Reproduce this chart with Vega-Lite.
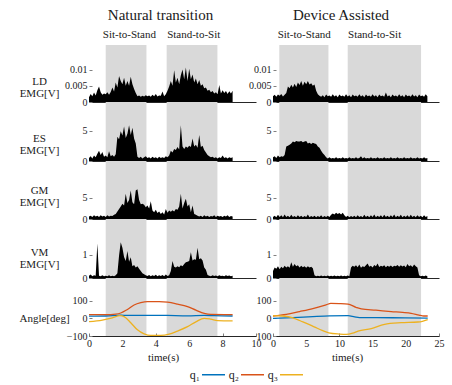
{
"$schema": "https://vega.github.io/schema/vega-lite/v6.json",
"padding": {"left": 18, "top": 8, "right": 5, "bottom": 5},
"config": {
  "font": "Liberation Serif",
  "view": {"stroke": null},
  "axis": {"labelFont": "Liberation Serif", "labelFontSize": 10, "labelColor": "#1a1a1a", "labelOverlap": false, "labelFlush": false, "tickCount": 12, "titleFont": "Liberation Serif", "titleFontWeight": "normal", "titleColor": "#1a1a1a", "grid": false, "tickColor": "#808080", "domainColor": "#262626"},
  "title": {"font": "Liberation Serif", "fontWeight": "normal", "color": "#1a1a1a"},
  "text": {"font": "Liberation Serif", "color": "#1a1a1a"}
},
"datasets": {
  "phL": [{"s": 1.0, "e": 3.44, "m": 2.42, "lab": "Sit-to-Stand"}, {"s": 4.65, "e": 7.69, "m": 6.27, "lab": "Stand-to-Sit"}],
  "phR": [{"s": 0.95, "e": 8.35, "m": 4.7, "lab": "Sit-to-Stand"}, {"s": 11.25, "e": 22.3, "m": 15.3, "lab": "Stand-to-Sit"}],
  "emgL": [
{"t":0.0,"LD":0.0015,"ES":0.5,"GM":0.6,"VM":0.10},
{"t":0.1,"LD":0.0025,"ES":0.8,"GM":0.8,"VM":0.15},
{"t":0.2,"LD":0.0018,"ES":0.4,"GM":0.5,"VM":0.08},
{"t":0.3,"LD":0.0029,"ES":0.9,"GM":0.9,"VM":0.12},
{"t":0.4,"LD":0.0020,"ES":0.6,"GM":0.6,"VM":0.10},
{"t":0.5,"LD":0.0036,"ES":1.2,"GM":0.8,"VM":1.48},
{"t":0.6,"LD":0.0048,"ES":1.7,"GM":0.5,"VM":0.10},
{"t":0.7,"LD":0.0030,"ES":1.0,"GM":0.9,"VM":0.08},
{"t":0.8,"LD":0.0022,"ES":1.5,"GM":0.6,"VM":0.12},
{"t":0.9,"LD":0.0026,"ES":0.7,"GM":0.8,"VM":0.07},
{"t":1.0,"LD":0.0024,"ES":0.9,"GM":0.5,"VM":0.10},
{"t":1.1,"LD":0.0030,"ES":0.6,"GM":0.9,"VM":0.08},
{"t":1.2,"LD":0.0022,"ES":1.6,"GM":0.6,"VM":0.12},
{"t":1.3,"LD":0.0031,"ES":0.8,"GM":0.8,"VM":0.07},
{"t":1.4,"LD":0.0045,"ES":1.0,"GM":0.7,"VM":0.10},
{"t":1.5,"LD":0.0032,"ES":0.7,"GM":1.0,"VM":0.08},
{"t":1.6,"LD":0.0060,"ES":1.1,"GM":1.2,"VM":0.12},
{"t":1.7,"LD":0.0045,"ES":4.0,"GM":1.8,"VM":0.20},
{"t":1.8,"LD":0.0080,"ES":3.6,"GM":2.4,"VM":0.97},
{"t":1.9,"LD":0.0065,"ES":4.9,"GM":3.0,"VM":1.53},
{"t":2.0,"LD":0.0055,"ES":4.2,"GM":3.6,"VM":1.30},
{"t":2.1,"LD":0.0075,"ES":5.7,"GM":3.2,"VM":0.90},
{"t":2.2,"LD":0.0050,"ES":3.8,"GM":6.0,"VM":0.73},
{"t":2.3,"LD":0.0065,"ES":4.5,"GM":3.8,"VM":1.16},
{"t":2.4,"LD":0.0050,"ES":5.9,"GM":4.5,"VM":0.70},
{"t":2.5,"LD":0.0078,"ES":4.3,"GM":6.8,"VM":0.89},
{"t":2.6,"LD":0.0055,"ES":5.5,"GM":4.0,"VM":0.50},
{"t":2.7,"LD":0.0040,"ES":3.7,"GM":3.5,"VM":0.56},
{"t":2.8,"LD":0.0028,"ES":2.9,"GM":6.8,"VM":0.45},
{"t":2.9,"LD":0.0018,"ES":0.7,"GM":7.1,"VM":0.50},
{"t":3.0,"LD":0.0020,"ES":0.5,"GM":4.5,"VM":0.40},
{"t":3.1,"LD":0.0016,"ES":0.7,"GM":3.5,"VM":0.30},
{"t":3.2,"LD":0.0019,"ES":0.4,"GM":3.6,"VM":0.20},
{"t":3.3,"LD":0.0017,"ES":0.6,"GM":3.4,"VM":0.16},
{"t":3.4,"LD":0.0021,"ES":0.8,"GM":2.8,"VM":0.12},
{"t":3.5,"LD":0.0018,"ES":0.5,"GM":3.2,"VM":0.09},
{"t":3.6,"LD":0.0020,"ES":0.6,"GM":2.5,"VM":0.13},
{"t":3.7,"LD":0.0016,"ES":0.4,"GM":4.2,"VM":0.08},
{"t":3.8,"LD":0.0022,"ES":0.7,"GM":2.0,"VM":0.12},
{"t":3.9,"LD":0.0018,"ES":0.5,"GM":1.6,"VM":0.09},
{"t":4.0,"LD":0.0025,"ES":0.6,"GM":2.2,"VM":0.14},
{"t":4.1,"LD":0.0017,"ES":0.4,"GM":1.4,"VM":0.08},
{"t":4.2,"LD":0.0020,"ES":0.7,"GM":1.8,"VM":0.12},
{"t":4.3,"LD":0.0019,"ES":0.5,"GM":1.2,"VM":0.09},
{"t":4.4,"LD":0.0032,"ES":0.6,"GM":1.6,"VM":0.13},
{"t":4.5,"LD":0.0018,"ES":0.5,"GM":1.1,"VM":0.08},
{"t":4.6,"LD":0.0024,"ES":0.8,"GM":2.4,"VM":0.15},
{"t":4.7,"LD":0.0035,"ES":0.6,"GM":1.5,"VM":0.09},
{"t":4.8,"LD":0.0048,"ES":0.9,"GM":2.0,"VM":0.12},
{"t":4.9,"LD":0.0065,"ES":1.7,"GM":1.7,"VM":0.30},
{"t":5.0,"LD":0.0050,"ES":1.4,"GM":2.1,"VM":0.73},
{"t":5.1,"LD":0.0098,"ES":2.0,"GM":1.8,"VM":0.48},
{"t":5.2,"LD":0.0060,"ES":1.8,"GM":2.4,"VM":0.45},
{"t":5.3,"LD":0.0075,"ES":2.3,"GM":2.2,"VM":0.50},
{"t":5.4,"LD":0.0055,"ES":1.9,"GM":3.0,"VM":0.46},
{"t":5.5,"LD":0.0082,"ES":5.9,"GM":6.0,"VM":0.55},
{"t":5.6,"LD":0.0100,"ES":2.4,"GM":2.5,"VM":0.50},
{"t":5.7,"LD":0.0070,"ES":2.0,"GM":3.8,"VM":0.60},
{"t":5.8,"LD":0.0106,"ES":2.4,"GM":4.8,"VM":0.68},
{"t":5.9,"LD":0.0065,"ES":2.2,"GM":3.0,"VM":0.70},
{"t":6.0,"LD":0.0102,"ES":2.5,"GM":3.5,"VM":0.73},
{"t":6.1,"LD":0.0070,"ES":2.3,"GM":1.6,"VM":1.10},
{"t":6.2,"LD":0.0085,"ES":3.7,"GM":3.2,"VM":0.75},
{"t":6.3,"LD":0.0060,"ES":2.4,"GM":1.2,"VM":0.80},
{"t":6.4,"LD":0.0072,"ES":2.7,"GM":1.0,"VM":0.78},
{"t":6.5,"LD":0.0055,"ES":2.2,"GM":0.8,"VM":1.30},
{"t":6.6,"LD":0.0068,"ES":4.3,"GM":0.6,"VM":0.80},
{"t":6.7,"LD":0.0050,"ES":2.3,"GM":0.8,"VM":0.85},
{"t":6.8,"LD":0.0055,"ES":2.5,"GM":0.5,"VM":0.75},
{"t":6.9,"LD":0.0042,"ES":1.8,"GM":0.9,"VM":0.45},
{"t":7.0,"LD":0.0045,"ES":1.4,"GM":0.6,"VM":0.35},
{"t":7.1,"LD":0.0035,"ES":1.0,"GM":0.8,"VM":0.13},
{"t":7.2,"LD":0.0038,"ES":0.8,"GM":0.5,"VM":0.10},
{"t":7.3,"LD":0.0030,"ES":0.6,"GM":0.7,"VM":0.08},
{"t":7.4,"LD":0.0034,"ES":0.7,"GM":0.6,"VM":0.12},
{"t":7.5,"LD":0.0026,"ES":0.5,"GM":0.9,"VM":0.09},
{"t":7.6,"LD":0.0030,"ES":0.6,"GM":0.5,"VM":0.11},
{"t":7.7,"LD":0.0024,"ES":0.4,"GM":0.8,"VM":0.08},
{"t":7.8,"LD":0.0052,"ES":0.6,"GM":0.6,"VM":0.12},
{"t":7.9,"LD":0.0026,"ES":0.5,"GM":0.7,"VM":0.09},
{"t":8.0,"LD":0.0036,"ES":0.9,"GM":0.5,"VM":0.10},
{"t":8.1,"LD":0.0028,"ES":0.5,"GM":0.8,"VM":0.08},
{"t":8.2,"LD":0.0034,"ES":0.6,"GM":0.6,"VM":0.12},
{"t":8.3,"LD":0.0025,"ES":0.4,"GM":0.9,"VM":0.09},
{"t":8.4,"LD":0.0033,"ES":0.6,"GM":0.5,"VM":0.11},
{"t":8.5,"LD":0.0026,"ES":0.5,"GM":0.7,"VM":0.08},
{"t":8.6,"LD":0.0035,"ES":0.6,"GM":0.6,"VM":0.10}
  ],
  "emgR": [
{"t":0,"LD":0.0018,"ES":0.6,"GM":0.5,"VM":0.30},
{"t":0.25,"LD":0.0022,"ES":0.8,"GM":0.8,"VM":0.45},
{"t":0.5,"LD":0.0016,"ES":0.5,"GM":0.4,"VM":0.40},
{"t":0.75,"LD":0.0023,"ES":0.9,"GM":1.0,"VM":0.50},
{"t":1.0,"LD":0.0019,"ES":0.6,"GM":0.5,"VM":0.38},
{"t":1.25,"LD":0.0025,"ES":0.8,"GM":0.9,"VM":0.48},
{"t":1.5,"LD":0.0017,"ES":0.7,"GM":0.4,"VM":0.42},
{"t":1.75,"LD":0.0022,"ES":1.0,"GM":1.1,"VM":0.52},
{"t":2.0,"LD":0.0028,"ES":2.4,"GM":0.5,"VM":0.45},
{"t":2.25,"LD":0.0048,"ES":2.5,"GM":0.8,"VM":0.50},
{"t":2.5,"LD":0.0042,"ES":2.7,"GM":0.4,"VM":0.44},
{"t":2.75,"LD":0.0053,"ES":2.9,"GM":1.0,"VM":0.68},
{"t":3.0,"LD":0.0045,"ES":3.2,"GM":0.5,"VM":0.48},
{"t":3.25,"LD":0.0056,"ES":3.1,"GM":0.7,"VM":0.60},
{"t":3.5,"LD":0.0046,"ES":3.3,"GM":0.4,"VM":0.50},
{"t":3.75,"LD":0.0060,"ES":3.2,"GM":0.9,"VM":0.55},
{"t":4.0,"LD":0.0052,"ES":3.2,"GM":0.5,"VM":0.45},
{"t":4.25,"LD":0.0065,"ES":3.3,"GM":0.8,"VM":0.52},
{"t":4.5,"LD":0.0050,"ES":3.1,"GM":0.4,"VM":0.46},
{"t":4.75,"LD":0.0062,"ES":3.2,"GM":0.7,"VM":0.50},
{"t":5.0,"LD":0.0055,"ES":3.3,"GM":0.5,"VM":0.44},
{"t":5.25,"LD":0.0065,"ES":2.9,"GM":1.1,"VM":0.50},
{"t":5.5,"LD":0.0054,"ES":3.0,"GM":0.4,"VM":0.45},
{"t":5.75,"LD":0.0058,"ES":2.8,"GM":0.7,"VM":0.48},
{"t":6.0,"LD":0.0050,"ES":3.0,"GM":0.5,"VM":0.42},
{"t":6.25,"LD":0.0054,"ES":2.9,"GM":0.8,"VM":0.12},
{"t":6.5,"LD":0.0035,"ES":2.8,"GM":0.4,"VM":0.08},
{"t":6.75,"LD":0.0024,"ES":2.4,"GM":0.7,"VM":0.10},
{"t":7.0,"LD":0.0019,"ES":2.2,"GM":0.5,"VM":0.07},
{"t":7.25,"LD":0.0016,"ES":1.7,"GM":0.9,"VM":0.11},
{"t":7.5,"LD":0.0021,"ES":1.3,"GM":0.4,"VM":0.08},
{"t":7.75,"LD":0.0015,"ES":1.0,"GM":0.7,"VM":0.10},
{"t":8.0,"LD":0.0023,"ES":0.6,"GM":0.5,"VM":0.07},
{"t":8.25,"LD":0.0018,"ES":0.4,"GM":0.8,"VM":0.11},
{"t":8.5,"LD":0.0020,"ES":0.6,"GM":0.5,"VM":0.08},
{"t":8.75,"LD":0.0016,"ES":0.4,"GM":1.0,"VM":0.10},
{"t":9.0,"LD":0.0024,"ES":0.5,"GM":1.3,"VM":0.07},
{"t":9.25,"LD":0.0017,"ES":0.4,"GM":1.1,"VM":0.11},
{"t":9.5,"LD":0.0021,"ES":0.6,"GM":1.5,"VM":0.08},
{"t":9.75,"LD":0.0015,"ES":0.4,"GM":1.2,"VM":0.10},
{"t":10.0,"LD":0.0023,"ES":0.5,"GM":1.4,"VM":0.07},
{"t":10.25,"LD":0.0018,"ES":0.4,"GM":1.1,"VM":0.11},
{"t":10.5,"LD":0.0020,"ES":0.6,"GM":1.5,"VM":0.08},
{"t":10.75,"LD":0.0016,"ES":0.4,"GM":0.9,"VM":0.10},
{"t":11.0,"LD":0.0024,"ES":0.5,"GM":0.5,"VM":0.07},
{"t":11.25,"LD":0.0017,"ES":0.4,"GM":0.8,"VM":0.11},
{"t":11.5,"LD":0.0021,"ES":0.6,"GM":0.4,"VM":0.08},
{"t":11.75,"LD":0.0015,"ES":0.4,"GM":0.7,"VM":0.45},
{"t":12.0,"LD":0.0023,"ES":0.5,"GM":0.5,"VM":0.52},
{"t":12.25,"LD":0.0018,"ES":0.4,"GM":0.8,"VM":0.48},
{"t":12.5,"LD":0.0020,"ES":0.6,"GM":0.4,"VM":0.55},
{"t":12.75,"LD":0.0016,"ES":0.4,"GM":0.9,"VM":0.46},
{"t":13.0,"LD":0.0024,"ES":0.5,"GM":0.5,"VM":0.58},
{"t":13.25,"LD":0.0017,"ES":0.8,"GM":0.7,"VM":0.44},
{"t":13.5,"LD":0.0021,"ES":0.4,"GM":0.4,"VM":0.50},
{"t":13.75,"LD":0.0015,"ES":0.6,"GM":1.0,"VM":0.47},
{"t":14.0,"LD":0.0023,"ES":0.4,"GM":0.5,"VM":0.55},
{"t":14.25,"LD":0.0018,"ES":0.5,"GM":0.8,"VM":0.62},
{"t":14.5,"LD":0.0020,"ES":0.4,"GM":0.4,"VM":0.48},
{"t":14.75,"LD":0.0016,"ES":0.6,"GM":0.9,"VM":0.52},
{"t":15.0,"LD":0.0024,"ES":0.4,"GM":0.5,"VM":0.45},
{"t":15.25,"LD":0.0017,"ES":0.5,"GM":1.1,"VM":0.56},
{"t":15.5,"LD":0.0021,"ES":0.4,"GM":0.4,"VM":0.50},
{"t":15.75,"LD":0.0015,"ES":0.6,"GM":0.8,"VM":0.62},
{"t":16.0,"LD":0.0023,"ES":0.4,"GM":0.5,"VM":0.47},
{"t":16.25,"LD":0.0018,"ES":0.5,"GM":0.9,"VM":0.53},
{"t":16.5,"LD":0.0020,"ES":0.4,"GM":0.4,"VM":0.49},
{"t":16.75,"LD":0.0016,"ES":0.6,"GM":1.0,"VM":0.55},
{"t":17.0,"LD":0.0029,"ES":0.4,"GM":0.5,"VM":0.46},
{"t":17.25,"LD":0.0017,"ES":0.5,"GM":0.8,"VM":0.52},
{"t":17.5,"LD":0.0021,"ES":0.4,"GM":0.4,"VM":0.48},
{"t":17.75,"LD":0.0015,"ES":0.6,"GM":0.9,"VM":0.54},
{"t":18.0,"LD":0.0023,"ES":0.4,"GM":0.5,"VM":0.47},
{"t":18.25,"LD":0.0018,"ES":0.5,"GM":1.1,"VM":0.53},
{"t":18.5,"LD":0.0020,"ES":0.4,"GM":0.4,"VM":0.50},
{"t":18.75,"LD":0.0016,"ES":0.6,"GM":0.8,"VM":0.56},
{"t":19.0,"LD":0.0024,"ES":0.4,"GM":0.5,"VM":0.48},
{"t":19.25,"LD":0.0017,"ES":0.5,"GM":1.0,"VM":0.55},
{"t":19.5,"LD":0.0021,"ES":0.4,"GM":0.4,"VM":0.49},
{"t":19.75,"LD":0.0015,"ES":0.6,"GM":0.8,"VM":0.54},
{"t":20.0,"LD":0.0023,"ES":0.4,"GM":0.5,"VM":0.46},
{"t":20.25,"LD":0.0018,"ES":0.5,"GM":0.9,"VM":0.60},
{"t":20.5,"LD":0.0020,"ES":0.4,"GM":0.4,"VM":0.50},
{"t":20.75,"LD":0.0016,"ES":0.6,"GM":1.0,"VM":0.55},
{"t":21.0,"LD":0.0024,"ES":0.4,"GM":0.5,"VM":0.47},
{"t":21.25,"LD":0.0017,"ES":0.5,"GM":0.8,"VM":0.58},
{"t":21.5,"LD":0.0021,"ES":0.4,"GM":0.4,"VM":0.50},
{"t":21.75,"LD":0.0015,"ES":0.6,"GM":0.9,"VM":0.45},
{"t":22.0,"LD":0.0023,"ES":0.4,"GM":0.5,"VM":0.12},
{"t":22.25,"LD":0.0018,"ES":0.5,"GM":0.8,"VM":0.08},
{"t":22.5,"LD":0.0020,"ES":0.4,"GM":0.4,"VM":0.10},
{"t":22.75,"LD":0.0016,"ES":0.6,"GM":0.9,"VM":0.07},
{"t":23.0,"LD":0.0024,"ES":0.4,"GM":0.5,"VM":0.11},
{"t":23.25,"LD":0.0018,"ES":0.5,"GM":0.7,"VM":0.08}
  ],
  "angL": [
{"q":"q₁","t":0,"v":12},{"q":"q₁","t":1.0,"v":13},{"q":"q₁","t":1.9,"v":18},{"q":"q₁","t":2.3,"v":16},{"q":"q₁","t":3.5,"v":17},{"q":"q₁","t":4.7,"v":16},{"q":"q₁","t":5.9,"v":14},{"q":"q₁","t":6.9,"v":17},{"q":"q₁","t":7.5,"v":15},{"q":"q₁","t":8.6,"v":13},
{"q":"q₂","t":0,"v":21},{"q":"q₂","t":1.0,"v":21},{"q":"q₂","t":1.6,"v":24},{"q":"q₂","t":1.9,"v":30},{"q":"q₂","t":2.3,"v":50},{"q":"q₂","t":2.7,"v":75},{"q":"q₂","t":3.1,"v":88},{"q":"q₂","t":3.5,"v":94},{"q":"q₂","t":4.2,"v":94},{"q":"q₂","t":4.7,"v":91},{"q":"q₂","t":5.3,"v":80},{"q":"q₂","t":5.9,"v":66},{"q":"q₂","t":6.4,"v":46},{"q":"q₂","t":6.9,"v":28},{"q":"q₂","t":7.3,"v":22},{"q":"q₂","t":8.6,"v":21},
{"q":"q₃","t":0,"v":-19},{"q":"q₃","t":0.8,"v":-10},{"q":"q₃","t":1.4,"v":3},{"q":"q₃","t":1.85,"v":15},{"q":"q₃","t":2.1,"v":10},{"q":"q₃","t":2.5,"v":-25},{"q":"q₃","t":2.9,"v":-65},{"q":"q₃","t":3.3,"v":-88},{"q":"q₃","t":3.7,"v":-97},{"q":"q₃","t":4.3,"v":-97},{"q":"q₃","t":4.8,"v":-90},{"q":"q₃","t":5.3,"v":-72},{"q":"q₃","t":5.9,"v":-47},{"q":"q₃","t":6.4,"v":-20},{"q":"q₃","t":6.9,"v":0},{"q":"q₃","t":7.3,"v":-5},{"q":"q₃","t":7.7,"v":-13},{"q":"q₃","t":8.6,"v":-15}
  ],
  "angR": [
{"q":"q₁","t":0,"v":0},{"q":"q₁","t":3,"v":4},{"q":"q₁","t":6,"v":10},{"q":"q₁","t":8.5,"v":14},{"q":"q₁","t":11.3,"v":15},{"q":"q₁","t":12.3,"v":8},{"q":"q₁","t":13,"v":4},{"q":"q₁","t":18,"v":3},{"q":"q₁","t":23.3,"v":1},
{"q":"q₂","t":0,"v":13},{"q":"q₂","t":2,"v":22},{"q":"q₂","t":4,"v":38},{"q":"q₂","t":6,"v":55},{"q":"q₂","t":8,"v":76},{"q":"q₂","t":8.7,"v":84},{"q":"q₂","t":10,"v":83},{"q":"q₂","t":11.3,"v":80},{"q":"q₂","t":12.5,"v":62},{"q":"q₂","t":13.3,"v":53},{"q":"q₂","t":15.5,"v":46},{"q":"q₂","t":17.8,"v":38},{"q":"q₂","t":19.5,"v":33},{"q":"q₂","t":20.8,"v":28},{"q":"q₂","t":22,"v":18},{"q":"q₂","t":22.7,"v":13},{"q":"q₂","t":23.3,"v":13},
{"q":"q₃","t":0,"v":15},{"q":"q₃","t":1.5,"v":13},{"q":"q₃","t":3,"v":3},{"q":"q₃","t":3.7,"v":-8},{"q":"q₃","t":4.5,"v":-20},{"q":"q₃","t":6.2,"v":-48},{"q":"q₃","t":7.5,"v":-70},{"q":"q₃","t":8.4,"v":-82},{"q":"q₃","t":10,"v":-89},{"q":"q₃","t":11,"v":-91},{"q":"q₃","t":12,"v":-84},{"q":"q₃","t":12.8,"v":-72},{"q":"q₃","t":14.8,"v":-58},{"q":"q₃","t":16.8,"v":-34},{"q":"q₃","t":19.3,"v":-25},{"q":"q₃","t":21.8,"v":-21},{"q":"q₃","t":22.5,"v":-17},{"q":"q₃","t":23.3,"v":-8}
  ]
},
"bounds": "flush",
"columns": 2,
"spacing": {"row": 0, "column": 17},
"resolve": {"scale": {"x": "independent", "y": "independent", "color": "shared"}, "legend": {"color": "shared"}},
"concat": [
    {"width": 167, "height": 57,
     "title": {"text": "Natural transition", "fontSize": 15, "dx": -12, "offset": 6},
     "layer": [
      {"data": {"name": "phL"}, "mark": {"type": "rect", "color": "#d9d9d9"}, "encoding": {"x": {"field": "s", "type": "quantitative", "scale": {"domain": [0, 10], "nice": false}, "axis": {"labels": false, "ticks": false, "title": null}}, "x2": {"field": "e"}}},
      {"data": {"name": "emgL"}, "mark": {"type": "area", "color": "#000000"}, "encoding": {"x": {"field": "t", "type": "quantitative"}, "y": {"field": "LD", "type": "quantitative", "scale": {"domain": [0, 0.01754], "nice": false}, "axis": {"values": [0, 0.005, 0.01], "tickCount": 12, "format": "~g", "domain": false, "tickSize": -3, "labelPadding": 5, "title": ["LD", "EMG[V]"], "titleAngle": 0, "titleAlign": "center", "titleBaseline": "middle", "titleX": -50, "titleY": 36, "titleFontSize": 11, "titleLineHeight": 12}}}},
      {"mark": {"type": "rule", "color": "#808080"}, "encoding": {"x": {"datum": 0, "type": "quantitative"}, "y": {"datum": 0, "type": "quantitative"}, "y2": {"datum": 0.0107}}},
      {"data": {"name": "phL"}, "mark": {"type": "text", "fontSize": 11, "dy": -10, "baseline": "middle"}, "encoding": {"x": {"field": "m", "type": "quantitative"}, "y": {"datum": 0.01754, "type": "quantitative"}, "text": {"field": "lab"}}}
     ]},
    {"width": 166, "height": 57,
     "title": {"text": "Device Assisted", "fontSize": 15, "dx": -15, "offset": 6},
     "layer": [
      {"data": {"name": "phR"}, "mark": {"type": "rect", "color": "#d9d9d9"}, "encoding": {"x": {"field": "s", "type": "quantitative", "scale": {"domain": [0, 25], "nice": false}, "axis": {"labels": false, "ticks": false, "title": null}}, "x2": {"field": "e"}}},
      {"data": {"name": "emgR"}, "mark": {"type": "area", "color": "#000000"}, "encoding": {"x": {"field": "t", "type": "quantitative"}, "y": {"field": "LD", "type": "quantitative", "scale": {"domain": [0, 0.01754], "nice": false}, "axis": {"values": [0, 0.005, 0.01], "tickCount": 12, "format": "~g", "domain": false, "tickSize": -3, "labelPadding": 5, "title": null}}}},
      {"mark": {"type": "rule", "color": "#808080"}, "encoding": {"x": {"datum": 0, "type": "quantitative"}, "y": {"datum": 0, "type": "quantitative"}, "y2": {"datum": 0.0107}}},
      {"data": {"name": "phR"}, "mark": {"type": "text", "fontSize": 11, "dy": -10, "baseline": "middle"}, "encoding": {"x": {"field": "m", "type": "quantitative"}, "y": {"datum": 0.01754, "type": "quantitative"}, "text": {"field": "lab"}}}
     ]},
    {"width": 167, "height": 59,
     "layer": [
      {"data": {"name": "phL"}, "mark": {"type": "rect", "color": "#d9d9d9"}, "encoding": {"x": {"field": "s", "type": "quantitative", "scale": {"domain": [0, 10], "nice": false}, "axis": {"labels": false, "ticks": false, "title": null}}, "x2": {"field": "e"}}},
      {"data": {"name": "emgL"}, "mark": {"type": "area", "color": "#000000"}, "encoding": {"x": {"field": "t", "type": "quantitative"}, "y": {"field": "ES", "type": "quantitative", "scale": {"domain": [0, 9.74], "nice": false}, "axis": {"values": [0, 5], "tickCount": 12, "domain": false, "tickSize": -3, "labelPadding": 5, "title": ["ES", "EMG[V]"], "titleAngle": 0, "titleAlign": "center", "titleBaseline": "middle", "titleX": -50, "titleY": 36, "titleFontSize": 11, "titleLineHeight": 12}}}},
      {"mark": {"type": "rule", "color": "#808080"}, "encoding": {"x": {"datum": 0, "type": "quantitative"}, "y": {"datum": 0, "type": "quantitative"}, "y2": {"datum": 5.95}}}
     ]},
    {"width": 166, "height": 59,
     "layer": [
      {"data": {"name": "phR"}, "mark": {"type": "rect", "color": "#d9d9d9"}, "encoding": {"x": {"field": "s", "type": "quantitative", "scale": {"domain": [0, 25], "nice": false}, "axis": {"labels": false, "ticks": false, "title": null}}, "x2": {"field": "e"}}},
      {"data": {"name": "emgR"}, "mark": {"type": "area", "color": "#000000"}, "encoding": {"x": {"field": "t", "type": "quantitative"}, "y": {"field": "ES", "type": "quantitative", "scale": {"domain": [0, 9.74], "nice": false}, "axis": {"values": [0, 5], "tickCount": 12, "domain": false, "tickSize": -3, "labelPadding": 5, "title": null}}}},
      {"mark": {"type": "rule", "color": "#808080"}, "encoding": {"x": {"datum": 0, "type": "quantitative"}, "y": {"datum": 0, "type": "quantitative"}, "y2": {"datum": 5.95}}}
     ]},
    {"width": 167, "height": 58,
     "layer": [
      {"data": {"name": "phL"}, "mark": {"type": "rect", "color": "#d9d9d9"}, "encoding": {"x": {"field": "s", "type": "quantitative", "scale": {"domain": [0, 10], "nice": false}, "axis": {"labels": false, "ticks": false, "title": null}}, "x2": {"field": "e"}}},
      {"data": {"name": "emgL"}, "mark": {"type": "area", "color": "#000000"}, "encoding": {"x": {"field": "t", "type": "quantitative"}, "y": {"field": "GM", "type": "quantitative", "scale": {"domain": [0, 13.8], "nice": false}, "axis": {"values": [0, 5], "tickCount": 12, "domain": false, "tickSize": -3, "labelPadding": 5, "title": ["GM", "EMG[V]"], "titleAngle": 0, "titleAlign": "center", "titleBaseline": "middle", "titleX": -50, "titleY": 29, "titleFontSize": 11, "titleLineHeight": 12}}}},
      {"mark": {"type": "rule", "color": "#808080"}, "encoding": {"x": {"datum": 0, "type": "quantitative"}, "y": {"datum": 0, "type": "quantitative"}, "y2": {"datum": 8.3}}}
     ]},
    {"width": 166, "height": 58,
     "layer": [
      {"data": {"name": "phR"}, "mark": {"type": "rect", "color": "#d9d9d9"}, "encoding": {"x": {"field": "s", "type": "quantitative", "scale": {"domain": [0, 25], "nice": false}, "axis": {"labels": false, "ticks": false, "title": null}}, "x2": {"field": "e"}}},
      {"data": {"name": "emgR"}, "mark": {"type": "area", "color": "#000000"}, "encoding": {"x": {"field": "t", "type": "quantitative"}, "y": {"field": "GM", "type": "quantitative", "scale": {"domain": [0, 13.8], "nice": false}, "axis": {"values": [0, 5], "tickCount": 12, "domain": false, "tickSize": -3, "labelPadding": 5, "title": null}}}},
      {"mark": {"type": "rule", "color": "#808080"}, "encoding": {"x": {"datum": 0, "type": "quantitative"}, "y": {"datum": 0, "type": "quantitative"}, "y2": {"datum": 8.3}}}
     ]},
    {"width": 167, "height": 59,
     "layer": [
      {"data": {"name": "phL"}, "mark": {"type": "rect", "color": "#d9d9d9"}, "encoding": {"x": {"field": "s", "type": "quantitative", "scale": {"domain": [0, 10], "nice": false}, "axis": {"labels": false, "ticks": false, "title": null}}, "x2": {"field": "e"}}},
      {"data": {"name": "emgL"}, "mark": {"type": "area", "color": "#000000"}, "encoding": {"x": {"field": "t", "type": "quantitative"}, "y": {"field": "VM", "type": "quantitative", "scale": {"domain": [0, 2.53], "nice": false}, "axis": {"values": [0, 1], "tickCount": 12, "format": "d", "domain": false, "tickSize": -3, "labelPadding": 5, "title": ["VM", "EMG[V]"], "titleAngle": 0, "titleAlign": "center", "titleBaseline": "middle", "titleX": -50, "titleY": 33, "titleFontSize": 11, "titleLineHeight": 12}}}},
      {"mark": {"type": "rule", "color": "#808080"}, "encoding": {"x": {"datum": 0, "type": "quantitative"}, "y": {"datum": 0, "type": "quantitative"}, "y2": {"datum": 1.51}}}
     ]},
    {"width": 166, "height": 59,
     "layer": [
      {"data": {"name": "phR"}, "mark": {"type": "rect", "color": "#d9d9d9"}, "encoding": {"x": {"field": "s", "type": "quantitative", "scale": {"domain": [0, 25], "nice": false}, "axis": {"labels": false, "ticks": false, "title": null}}, "x2": {"field": "e"}}},
      {"data": {"name": "emgR"}, "mark": {"type": "area", "color": "#000000"}, "encoding": {"x": {"field": "t", "type": "quantitative"}, "y": {"field": "VM", "type": "quantitative", "scale": {"domain": [0, 2.53], "nice": false}, "axis": {"values": [0, 1], "tickCount": 12, "format": "d", "domain": false, "tickSize": -3, "labelPadding": 5, "title": null}}}},
      {"mark": {"type": "rule", "color": "#808080"}, "encoding": {"x": {"datum": 0, "type": "quantitative"}, "y": {"datum": 0, "type": "quantitative"}, "y2": {"datum": 1.51}}}
     ]},
    {"width": 167, "height": 58,
     "layer": [
      {"data": {"name": "phL"}, "mark": {"type": "rect", "color": "#d9d9d9"}, "encoding": {"x": {"field": "s", "type": "quantitative", "scale": {"domain": [0, 10], "nice": false}, "axis": {"values": [0, 2, 4, 6, 8, 10], "tickCount": 12, "tickSize": -3, "labelPadding": 5, "title": "time(s)", "titleFontSize": 11, "titleX": 74, "titlePadding": 3}}, "x2": {"field": "e"}}},
      {"data": {"name": "angL"}, "mark": {"type": "line", "strokeWidth": 1.3, "interpolate": "monotone"}, "encoding": {"x": {"field": "t", "type": "quantitative"}, "y": {"field": "v", "type": "quantitative", "scale": {"domain": [-100, 227.7], "nice": false}, "axis": {"values": [-100, 0, 100], "tickCount": 12, "domain": false, "tickSize": -3, "labelPadding": 5, "title": "Angle[deg]", "titleAngle": 0, "titleAlign": "center", "titleBaseline": "middle", "titleX": -45, "titleY": 40, "titleFontSize": 11}},
        "color": {"field": "q", "type": "nominal", "scale": {"domain": ["q₁", "q₂", "q₃"], "range": ["#0072BD", "#D95319", "#EDB120"]},
          "legend": {"title": null, "orient": "none", "legendX": 112, "legendY": 317, "direction": "horizontal", "symbolType": "stroke", "symbolSize": 529, "symbolStrokeWidth": 1.5, "labelFont": "Liberation Serif", "labelFontSize": 12, "labelColor": "#1a1a1a", "labelAlign": "right", "labelOffset": -26, "columnPadding": 0}}}},
      {"mark": {"type": "rule", "color": "#808080"}, "encoding": {"x": {"datum": 0, "type": "quantitative"}, "y": {"datum": -100, "type": "quantitative"}, "y2": {"datum": 100}}}
     ]},
    {"width": 166, "height": 58,
     "layer": [
      {"data": {"name": "phR"}, "mark": {"type": "rect", "color": "#d9d9d9"}, "encoding": {"x": {"field": "s", "type": "quantitative", "scale": {"domain": [0, 25], "nice": false}, "axis": {"values": [0, 5, 10, 15, 20, 25], "tickCount": 12, "tickSize": -3, "labelPadding": 5, "title": "time(s)", "titleFontSize": 11, "titleX": 74, "titlePadding": 3}}, "x2": {"field": "e"}}},
      {"data": {"name": "angR"}, "mark": {"type": "line", "strokeWidth": 1.3, "interpolate": "monotone"}, "encoding": {"x": {"field": "t", "type": "quantitative"}, "y": {"field": "v", "type": "quantitative", "scale": {"domain": [-100, 227.7], "nice": false}, "axis": {"values": [-100, 0, 100], "tickCount": 12, "domain": false, "tickSize": -3, "labelPadding": 5, "title": null}},
        "color": {"field": "q", "type": "nominal", "scale": {"domain": ["q₁", "q₂", "q₃"], "range": ["#0072BD", "#D95319", "#EDB120"]}}}},
      {"mark": {"type": "rule", "color": "#808080"}, "encoding": {"x": {"datum": 0, "type": "quantitative"}, "y": {"datum": -100, "type": "quantitative"}, "y2": {"datum": 100}}}
     ]}
]
}
